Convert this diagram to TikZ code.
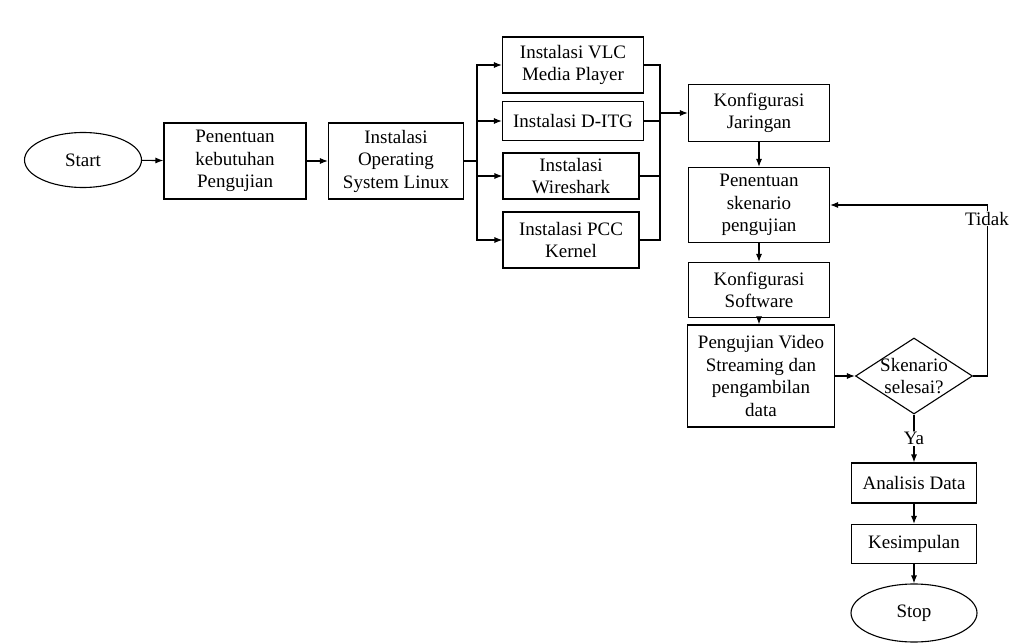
\documentclass[tikz,border=0pt]{standalone}
\usepackage{fontspec}
\setmainfont{Liberation Serif}
\usetikzlibrary{arrows.meta,shapes.geometric,positioning}

\begin{document}
\begin{tikzpicture}[x=1pt,y=-1pt,line width=1.1pt,>={Latex[length=8pt,width=6pt]},
  font=\fontsize{19}{22.5}\selectfont,
  box/.style={draw,rectangle,align=center,inner sep=2pt},
  term/.style={draw,ellipse,inner sep=0pt},
  dec/.style={draw,diamond,inner sep=0pt,minimum width=117pt,minimum height=76pt}]
  \useasboundingbox (0,0) rectangle (1020,644);
  \node[term,minimum width=117pt,minimum height=55pt] at (83,160) (start){Start};
  \node[box,minimum width=142pt,minimum height=76pt] at (235,161) (butuh){Penentuan\\kebutuhan\\Pengujian};
  \node[box,minimum width=135pt,minimum height=76pt] at (396,161) (os){Instalasi\\Operating\\System Linux};
  \node[box,minimum width=141pt,minimum height=56pt] at (573,65) (vlc){Instalasi VLC\\Media Player};
  \node[box,minimum width=141pt,minimum height=39pt] at (573,121) (ditg){Instalasi D-ITG};
  \node[box,minimum width=136pt,minimum height=46pt] at (571,176) (wire){Instalasi\\Wireshark};
  \node[box,minimum width=136pt,minimum height=56pt] at (571,240) (pcc){Instalasi PCC\\Kernel};
  \node[box,minimum width=141pt,minimum height=57pt] at (759,113) (jar){Konfigurasi\\Jaringan};
  \node[box,minimum width=141pt,minimum height=75pt] at (759,205) (sken){Penentuan\\skenario\\pengujian};
  \node[box,minimum width=141pt,minimum height=55pt] at (759,290) (soft){Konfigurasi\\Software};
  \node[box,minimum width=147pt,minimum height=102pt] at (761,376) (uji){Pengujian Video\\Streaming dan\\pengambilan\\data};
  \node[dec,label={[align=center]center:Skenario\\selesai?}] at (914,376) (cek){};
  \node[box,minimum width=125pt,minimum height=40pt] at (914,483) (anal){Analisis Data};
  \node[box,minimum width=125pt,minimum height=39pt] at (914,544) (simp){Kesimpulan};
  \node[term,minimum width=126pt,minimum height=58pt] at (914,613) (stop){Stop};
  \coordinate (split) at (477,161);
  \coordinate (join) at (660,113);

  \draw[->] (start) -- (butuh);
  \draw[->] (butuh) -- (os);
  \draw (os) -- (split);
  \foreach \n in {vlc,ditg,wire,pcc}{
    \draw[->] (split) |- (\n);
    \draw (\n) -| (join);
  }
  \draw[->] (join) -- (jar);
  \draw[->] (jar) -- (sken);
  \draw[->] (sken) -- (soft);
  \draw[->] (soft.south) -- (soft.south|-uji.north);
  \draw[->] (uji) -- (cek);
  \draw[->] (cek.east) -- ++(14,0) |- node[pos=.46,fill=white,inner sep=1pt]{Tidak} (sken.east);
  \draw[->] (cek.south) -- node[fill=white,inner sep=1pt]{Ya} (anal.north);
  \draw[->] (anal) -- (simp);
  \draw[->] (simp) -- (stop);
\end{tikzpicture}
\end{document}
